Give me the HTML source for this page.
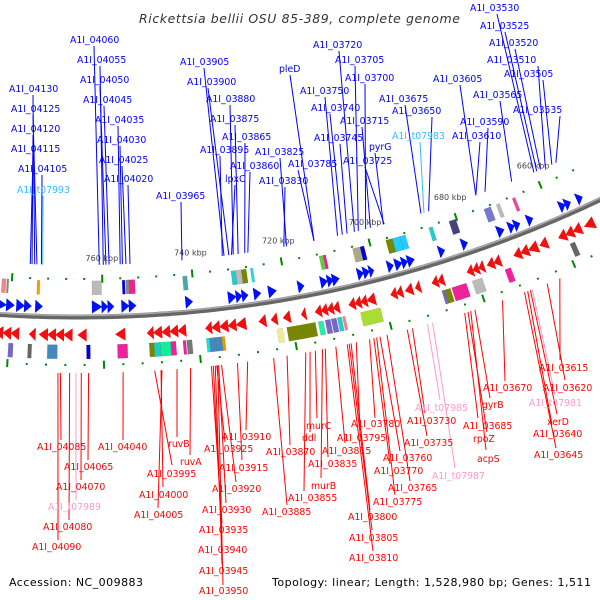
<!DOCTYPE html>
<html><head><meta charset="utf-8"><title>Rickettsia bellii genome map</title>
<style>html,body{margin:0;padding:0;background:#fff;}svg{display:block;font-family:"DejaVu Sans","Liberation Sans",sans-serif;}</style>
</head><body>
<svg id="chart" width="600" height="600" viewBox="0 0 600 600" xmlns="http://www.w3.org/2000/svg">
<rect x="0" y="0" width="600" height="600" fill="#fff"/>
<text x="139" y="23" font-size="12.5" font-style="italic" fill="#333" textLength="321">Rickettsia bellii OSU 85-389, complete genome</text>
<g id="backbone"></g><g id="ticks"></g><g id="genes"></g><g id="leaders"></g><g id="labels"></g>
<text x="9" y="586" font-size="11" fill="#000" textLength="134">Accession: NC_009883</text>
<text x="272" y="586" font-size="11" fill="#000" textLength="319">Topology: linear; Length: 1,528,980 bp; Genes: 1,511</text>
</svg>
<script>
// ---- data (kbp) ----
const tickStart = 652, tickEnd = 784, tickStep = 4;
const majorTicks = [660, 680, 700, 720, 740, 760, 780];
const majorTickLabels = ["660 kbp", "680 kbp", "700 kbp", "720 kbp", "740 kbp", "760 kbp", ""];
const forwardGenes = [[783.1,780.9],[780.9,779.2],[778.7,777.0],[777.0,775.5],[774.6,773.1],[762.3,760.2],[760.2,758.9],[758.9,757.6],[755.9,754.3],[754.3,752.8],[742.0,740.5],[732.7,731.0],[731.0,729.7],[729.7,728.4],[727.1,725.6],[723.9,722.2],[717.4,716.1],[712.4,710.9],[710.9,709.6],[709.8,708.3],[704.2,702.9],[702.9,701.6],[701.6,700.6],[697.5,696.2],[695.8,694.3],[694.3,693.0],[693.0,691.5],[685.9,684.6],[680.7,679.4],[672.5,671.0],[669.9,668.6],[668.6,667.3],[665.6,664.3],[658.0,656.7],[656.7,655.4],[653.9,652.6]];
const reverseGenes = [[783.1,781.3],[781.3,779.6],[779.6,777.9],[775.7,774.4],[773.6,771.8],[771.8,770.1],[770.1,768.4],[768.4,766.6],[765.4,763.6],[757.4,755.4],[750.7,749.4],[749.4,747.6],[747.6,745.9],[745.9,744.2],[744.2,742.5],[738.3,737.0],[737.0,735.3],[735.3,733.5],[733.5,731.8],[731.8,729.7],[726.9,725.4],[724.3,723.0],[721.7,720.2],[717.8,716.8],[714.8,713.5],[713.5,712.2],[712.2,710.9],[710.9,709.6],[707.5,706.2],[706.2,704.9],[704.9,703.6],[703.6,701.8],[698.4,697.1],[697.1,695.8],[695.2,693.6],[693.0,691.9],[689.3,688.0],[688.0,686.7],[681.5,680.2],[680.2,678.9],[678.9,677.7],[677.0,675.5],[675.5,674.0],[671.0,669.4],[669.4,667.7],[667.7,665.6],[665.1,663.4],[660.8,659.1],[659.1,657.4],[657.4,655.6],[654.8,652.6]];
const outerFeatures = [[782.2,781.3,'#e88'],[781.1,780.7,'#888'],[774.4,773.8,'#f90'],[762.3,760.2,'#bbb'],[755.6,755.0,'#00d'],[754.8,754.1,'#888'],[754.1,752.8,'#e28'],[742.2,741.2,'#4aa'],[731.4,730.4,'#2cc'],[730.4,729.1,'#bbb'],[729.1,728.0,'#780'],[727.1,726.5,'#2dd'],[711.6,710.7,'#6c4'],[710.7,710.1,'#e28'],[704.0,702.3,'#aa8'],[702.3,701.4,'#00d'],[696.4,694.9,'#780'],[694.9,693.2,'#2cf'],[693.2,691.9,'#2cf'],[686.5,685.6,'#2cc'],[681.8,680.2,'#447'],[673.6,672.0,'#77c'],[670.7,669.9,'#bbb'],[666.9,666.2,'#e4a']];
const innerFeatures = [[780.0,779.0,'#76c'],[775.9,775.1,'#666'],[771.8,769.7,'#48b'],[763.6,762.8,'#00d'],[757.1,755.0,'#e29'],[750.4,749.4,'#780'],[749.4,748.1,'#2cb'],[748.1,745.9,'#1e9'],[745.9,744.8,'#e29'],[743.3,742.7,'#e29'],[742.5,741.4,'#777'],[738.4,737.7,'#2dd'],[737.7,736.4,'#48b'],[736.4,735.1,'#48b'],[735.1,734.5,'#e90'],[723.4,722.2,'#ee9'],[721.3,718.0,'#780'],[718.0,715.2,'#780'],[714.6,713.5,'#2ea'],[713.1,712.0,'#76c'],[711.8,710.7,'#76c'],[710.5,709.6,'#2cc'],[709.4,708.8,'#e88'],[705.5,701.2,'#ad3'],[687.8,687.2,'#76c'],[687.2,685.9,'#780'],[685.6,682.4,'#e29'],[681.1,678.9,'#bbb'],[673.8,672.5,'#e29'],[659.1,658.0,'#666']];
// top labels: [name, textX, textY, leaderStartX, geneKbp, color]
const topLabels = [["A1I_04130",9,92,33,775.1,"#00f"],["A1I_04125",11,112,33,774.6,"#00f"],["A1I_04120",11,132,33,775.7,"#00f"],["A1I_04115",11,152,33,776.1,"#00f"],["A1I_04105",18,172,42,773.6,"#00f"],["A1I_t07993",17,193,43,773.3,"#3bf"],
["A1I_04060",70,43,94,760.6,"#00f"],["A1I_04055",77,63,100,759.7,"#00f"],["A1I_04050",80,83,100,759.1,"#00f"],["A1I_04045",83,103,104,758.4,"#00f"],["A1I_04035",95,123,118,755.9,"#00f"],["A1I_04030",97,143,120,755.4,"#00f"],["A1I_04025",99,163,122,754.6,"#00f"],["A1I_04020",104,182,128,753.7,"#00f"],
["A1I_03965",156,199,181,742.0,"#00f"],["A1I_03905",180,65,204,732.5,"#00f"],["A1I_03900",187,85,208,731.4,"#00f"],["A1I_03880",206,102,230,730.4,"#00f"],["A1I_03875",210,122,235,729.3,"#00f"],["A1I_03865",222,140,245,727.8,"#00f"],["A1I_03895",200,153,220,732.9,"#00f"],["A1I_03860",230,169,250,727.1,"#00f"],["lpxC",225,182,235,730.8,"#00f"],["A1I_03825",255,155,280,718.3,"#00f"],["A1I_03830",259,184,285,718.9,"#00f"],["pleD",279,72,290,712.0,"#00f"],
["A1I_03720",313,48,339,702.7,"#00f"],["A1I_03705",335,63,355,701.8,"#00f"],["A1I_03700",345,81,365,700.1,"#00f"],["A1I_03750",300,94,325,706.6,"#00f"],["A1I_03740",311,111,330,705.5,"#00f"],["A1I_03715",340,124,362,699.0,"#00f"],["A1I_03745",314,141,340,704.4,"#00f"],["pyrG",369,150,375,696.0,"#00f"],["A1I_03725",343,164,365,695.8,"#00f"],["A1I_03785",288,167,298,712.0,"#00f"],
["A1I_03675",379,102,405,687.2,"#00f"],["A1I_03650",392,114,432,685.4,"#00f"],["A1I_t07983",392,139,420,686.5,"#3bf"],["A1I_03605",433,82,460,674.2,"#00f"],["A1I_03565",473,98,500,665.6,"#00f"],["A1I_03590",460,125,488,672.0,"#00f"],["A1I_03610",452,139,480,674.2,"#00f"],
["A1I_03530",470,11,497,660.2,"#00f"],["A1I_03525",480,29,505,659.5,"#00f"],["A1I_03520",489,46,515,658.6,"#00f"],["A1I_03510",487,63,538,657.4,"#00f"],["A1I_03505",504,77,543,655.8,"#00f"],["A1I_03535",513,113,560,654.8,"#00f"]];
// bottom labels: [name, textX, textY, leaderEndX, leaderEndY, geneKbp, color]
const bottomLabels = [["A1I_04085",37,450,61,440,769.0,"#f00"],["A1I_04090",32,550,58,540,769.5,"#f00"],["A1I_04080",43,530,69,520,767.1,"#f00"],["A1I_t07989",48,510,76,500,765.8,"#f9c"],["A1I_04070",56,490,81,480,764.7,"#f00"],["A1I_04065",64,470,88,460,763.2,"#f00"],["A1I_04040",98,450,123,440,756.1,"#f00"],
["A1I_03995",147,477,172,465,749.6,"#f00"],["A1I_04000",139,498,163,487,748.3,"#f00"],["A1I_04005",134,518,158,508,748.1,"#f00"],["ruvB",168,447,177,437,745.0,"#f00"],["ruvA",180,465,190,455,742.2,"#f00"],
["A1I_03910",222,440,246,430,730.4,"#f00"],["A1I_03925",204,452,225,442,736.8,"#f00"],["A1I_03915",219,471,242,460,732.5,"#f00"],["A1I_03920",212,492,236,482,735.8,"#f00"],["A1I_03930",202,513,226,503,736.4,"#f00"],["A1I_03935",199,533,222,523,737.9,"#f00"],["A1I_03940",198,553,222,543,737.5,"#f00"],["A1I_03945",199,574,222,564,737.1,"#f00"],["A1I_03950",199,594,223,585,736.6,"#f00"],
["A1I_03870",266,455,290,445,722.2,"#f00"],["A1I_03885",262,515,287,505,725.0,"#f00"],["murC",306,429,317,418,716.3,"#f00"],["ddl",302,441,310,432,717.4,"#f00"],["A1I_03815",322,454,345,443,712.0,"#f00"],["A1I_03835",308,467,328,457,714.2,"#f00"],["murB",311,489,321,478,714.8,"#f00"],["A1I_03855",288,501,304,491,718.3,"#f00"],
["A1I_03780",351,427,375,418,704.9,"#f00"],["A1I_03795",337,441,360,430,707.7,"#f00"],["A1I_03760",383,461,400,451,702.7,"#f00"],["A1I_03770",374,474,390,464,704.0,"#f00"],["A1I_03765",388,491,410,481,701.2,"#f00"],["A1I_03775",373,505,395,495,703.4,"#f00"],["A1I_03800",348,520,370,510,708.8,"#f00"],["A1I_03805",349,541,372,530,709.2,"#f00"],["A1I_03810",349,561,373,551,709.6,"#f00"],
["A1I_03730",407,424,425,413,695.8,"#f00"],["A1I_03735",404,446,427,436,696.9,"#f00"],["A1I_t07985",415,411,440,400,692.6,"#f9c"],["A1I_t07987",432,479,455,468,691.5,"#f9c"],["A1I_03670",483,391,505,381,676.4,"#f00"],["gyrB",482,408,490,398,682.4,"#f00"],["A1I_03685",463,429,478,418,684.6,"#f00"],["rpoZ",473,442,487,432,683.9,"#f00"],["acpS",477,462,486,450,683.3,"#f00"],
["A1I_03615",539,371,560,360,663.8,"#f00"],["A1I_03620",543,391,565,380,666.6,"#f00"],["A1I_t07981",529,406,555,395,669.9,"#f9c"],["xerD",547,425,557,414,670.3,"#f00"],["A1I_03640",533,437,552,425,670.9,"#f00"],["A1I_03645",534,458,556,448,671.6,"#f00"]];

// ---- geometry ----
const NS = "http://www.w3.org/2000/svg";
const CX = 78, CY = -903, R = 1220, PHI0 = 0.0205, RAD_PER_KBP = 0.003812, REF_KBP = 760;
function phi(k){ return PHI0 + (REF_KBP - k) * RAD_PER_KBP; }
function P(k, d){ const a = phi(k); const s = Math.sin(a), c = Math.cos(a); return [CX + (R - d) * s, CY + (R - d) * c]; }
function mk(tag, attrs, parent){ const el = document.createElementNS(NS, tag); for (const key in attrs) el.setAttribute(key, attrs[key]); parent.appendChild(el); return el; }
function pts(list){ return list.map(p => p[0].toFixed(1) + "," + p[1].toFixed(1)).join(" "); }

const gBack = document.getElementById("backbone"), gTicks = document.getElementById("ticks"), gGenes = document.getElementById("genes"), gLead = document.getElementById("leaders"), gLab = document.getElementById("labels");

// backbone arc
let arcPts = [];
for (let k = 795; k >= 645; k -= 1) arcPts.push(P(k, 0));
const arc = mk("polyline", {points: pts(arcPts), fill: "none", stroke: "#666", "stroke-width": 5}, gBack);


const arcHi = mk("polyline", {points: pts(arcPts.map((p,i)=>P(795-i, 1.5))), fill: "none", stroke: "#aaa", "stroke-width": 1.5}, gBack);



// ticks
for (let k = tickStart; k <= tickEnd; k += tickStep) {
  const major = majorTicks.indexOf(k) >= 0;
  [38, -48].forEach(d => {
    const a = P(k, d - (major ? 4 : 1)), b = P(k, d + (major ? 4 : 1));
    const t = mk("line", {x1: a[0], y1: a[1], x2: b[0], y2: b[1], stroke: "#080", "stroke-width": 2}, gTicks);
    
    
  });
}
majorTicks.forEach((k, i) => {
  if (!majorTickLabels[i]) return;
  const p = P(k, 56);
  const t = mk("text", {x: p[0], y: p[1], "font-size": 8, fill: "#444", "text-anchor": "middle"}, gTicks);
  t.textContent = majorTickLabels[i];
  
  
});

// feature boxes
function box(f, d0, d1, name){
  const poly = mk("polygon", {points: pts([P(f[0], d0), P(f[1], d0), P(f[1], d1), P(f[0], d1)]), fill: f[2], stroke: "rgba(0,0,0,0.15)", "stroke-width": 0.5}, gGenes);
  
  
}
outerFeatures.forEach(f => box(f, 22, 36, 'forward-feature-box'));
innerFeatures.forEach(f => box(f, -28, -42, 'reverse-feature-box'));

// gene arrows: forward point to lower kbp (right), reverse point to higher kbp (left)
function arrow(g, off, fill, name, toLow){
  const tail = toLow ? Math.max(g[0], g[1]) : Math.min(g[0], g[1]);
  const head = toLow ? Math.min(g[0], g[1]) : Math.max(g[0], g[1]);
  const poly = mk("polygon", {points: pts([P(tail, off + 6), P(head, off), P(tail, off - 6)]), fill: fill, stroke: fill, "stroke-width": 0.6}, gGenes);
  
  
}
forwardGenes.forEach(g => arrow(g, 10, "#0010f0", 'forward-gene-arrow', true));
reverseGenes.forEach(g => arrow(g, -18, "#f01010", 'reverse-gene-arrow', false));

// labels
topLabels.forEach(l => {
  const e = P(l[4], 52);
  const ln = mk("line", {x1: l[3], y1: l[2] + 3, x2: e[0], y2: e[1], stroke: l[5], "stroke-width": 1}, gLead);
  
  
  const t = mk("text", {x: l[1], y: l[2], "font-size": 9.3, fill: l[5]}, gLab);
  t.textContent = l[0];
  
  
});
bottomLabels.forEach(l => {
  const s = P(l[5], -56);
  const ln = mk("line", {x1: s[0], y1: s[1], x2: l[3], y2: l[4], stroke: l[6], "stroke-width": 1}, gLead);
  
  
  const t = mk("text", {x: l[1], y: l[2], "font-size": 9.3, fill: l[6]}, gLab);
  t.textContent = l[0];
  
  
});
</script>
</body></html>
